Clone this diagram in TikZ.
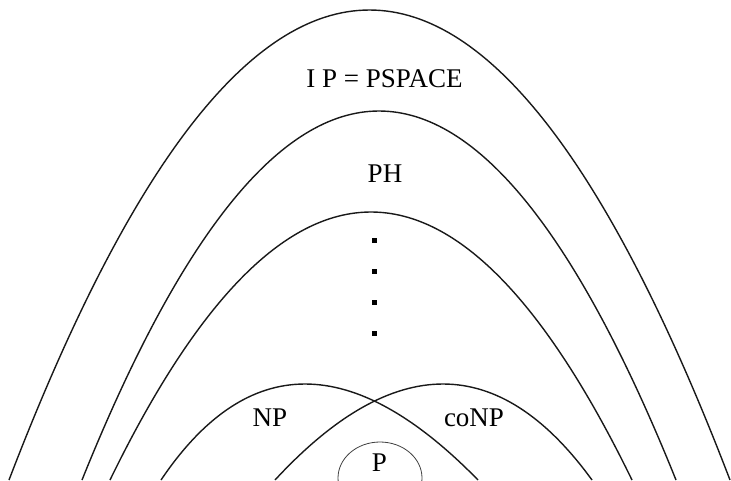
\documentclass[tikz,border=0pt]{standalone}
\usepackage{fontspec}
\setmainfont{Liberation Serif}
\usetikzlibrary{calc,shapes.geometric}
\newcommand{\quadarc}[3]{\draw[curve] (#1) .. controls ($(#1)!2/3!(#2)$) and ($(#3)!2/3!(#2)$) .. (#3);}
\begin{document}
\begin{tikzpicture}[x=1pt,y=-1pt,
  curve/.style={line width=1.4pt,black!90},
  lbl/.style={font=\fontsize{27}{30}\selectfont,anchor=base,inner sep=0pt},
  dotbox/.style={rectangle,fill=black,minimum size=5pt,inner sep=0pt},
  pbox/.style={ellipse,draw=black!75,line width=0.8pt,minimum width=84pt,minimum height=72pt,inner sep=0pt}]
\useasboundingbox (0,0) rectangle (731,480);
\clip (0,0) rectangle (731,480);
% IP = PSPACE
\quadarc{9,480}{369.5,-460}{730,480}
% PH
\quadarc{82,480}{379,-258}{676,480}
% third level
\quadarc{110,480}{371,-56}{632,480}
% NP
\quadarc{161,480}{290.5,288}{478,480}
% coNP
\quadarc{275,480}{452.5,288}{592,480}
% P
\node[pbox] (pset) at (380,478) {};
% labels
\node[lbl] (ip) at (384.5,87) {I P = PSPACE};
\node[lbl] (ph) at (385,182) {PH};
\node[lbl] (np) at (270,426) {NP};
\node[lbl] (conp) at (474,426) {coNP};
\node[lbl] (p) at (379.5,471) {P};
% dots
\node[dotbox] (d1) at (374,240) {};
\node[dotbox] (d2) at (374,271) {};
\node[dotbox] (d3) at (374,302) {};
\node[dotbox] (d4) at (374,333) {};
\end{tikzpicture}
\end{document}
